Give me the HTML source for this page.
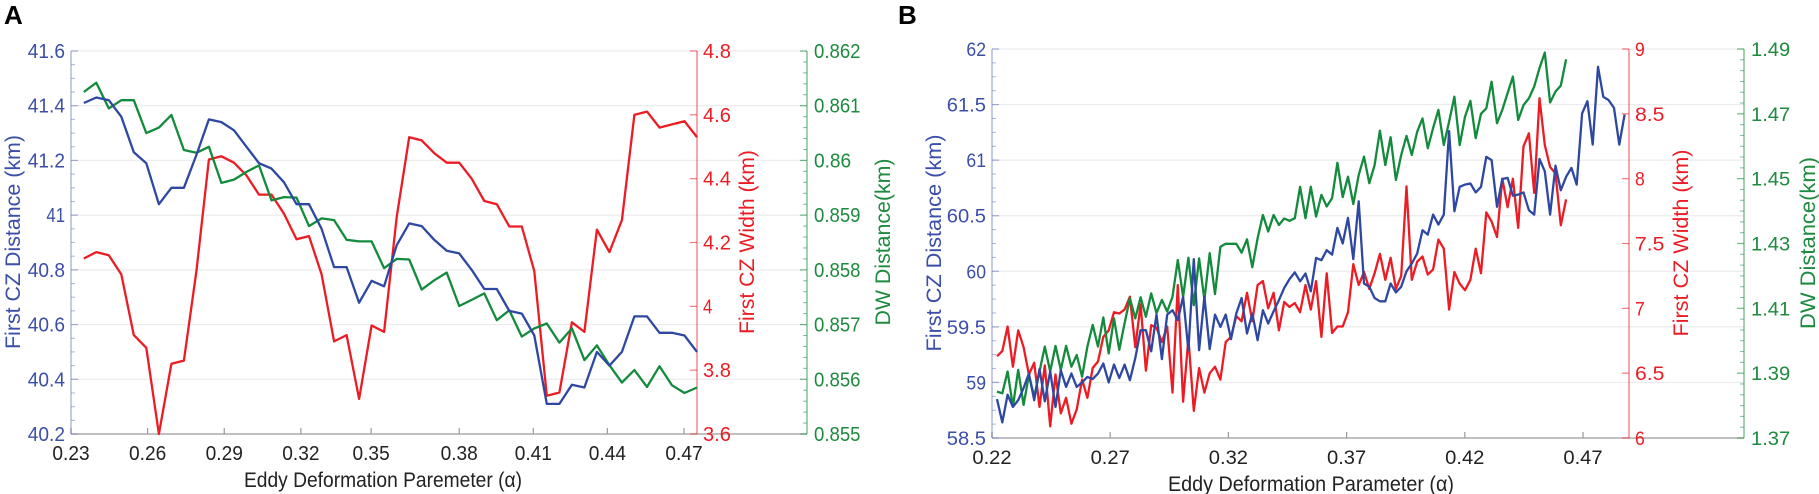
<!DOCTYPE html>
<html><head><meta charset="utf-8">
<style>
html,body{margin:0;padding:0;background:#fff;}
svg{display:block;font-family:"Liberation Sans",sans-serif;}
</style></head>
<body>
<svg id="fig" width="1819" height="494" viewBox="0 0 1819 494" xmlns="http://www.w3.org/2000/svg">
<text x="4" y="24" font-size="26" font-weight="bold" fill="#000">A</text>
<text x="898" y="24" font-size="26" font-weight="bold" fill="#000">B</text>
</svg>
<script>
// ---------- Panel A data ----------
const alphaA=[0.2350,0.2399,0.2448,0.2497,0.2546,0.2595,0.2644,0.2693,0.2742,0.2791,0.2840,0.2889,0.2938,0.2987,0.3036,0.3085,0.3134,0.3183,0.3232,0.3281,0.3330,0.3379,0.3428,0.3477,0.3526,0.3575,0.3624,0.3673,0.3722,0.3771,0.3820,0.3869,0.3918,0.3967,0.4016,0.4065,0.4114,0.4163,0.4212,0.4261,0.4310,0.4359,0.4408,0.4457,0.4506,0.4555,0.4604,0.4653,0.4702,0.4751];
const czDistA=[41.41,41.43,41.42,41.36,41.23,41.19,41.04,41.10,41.10,41.22,41.35,41.34,41.31,41.25,41.19,41.17,41.12,41.04,41.04,40.95,40.81,40.81,40.68,40.76,40.74,40.89,40.97,40.96,40.91,40.87,40.86,40.80,40.73,40.73,40.65,40.64,40.56,40.31,40.31,40.38,40.37,40.50,40.45,40.50,40.63,40.63,40.57,40.57,40.56,40.50];
const czWidthA=[4.15,4.17,4.16,4.10,3.91,3.87,3.60,3.82,3.83,4.11,4.46,4.47,4.45,4.41,4.35,4.35,4.29,4.21,4.22,4.10,3.89,3.91,3.71,3.94,3.92,4.28,4.53,4.52,4.48,4.45,4.45,4.40,4.33,4.32,4.25,4.25,4.11,3.72,3.73,3.95,3.92,4.24,4.17,4.27,4.60,4.61,4.56,4.57,4.58,4.53];
const dwDistA=[0.86125,0.86142,0.86095,0.8611,0.8611,0.8605,0.8606,0.86083,0.86019,0.86014,0.86025,0.85959,0.85965,0.85979,0.85991,0.85927,0.85933,0.85932,0.8588,0.85894,0.85891,0.85855,0.85852,0.85852,0.85803,0.8582,0.85819,0.85764,0.85781,0.85795,0.85734,0.85745,0.85757,0.85708,0.85726,0.85678,0.85693,0.85702,0.85667,0.85693,0.85635,0.85662,0.85626,0.85594,0.85617,0.85586,0.85624,0.85589,0.85575,0.85585];
const xTickValsA=[0.23,0.26,0.29,0.32,0.3475,0.382,0.411,0.44,0.47];
const xTickLabelsA=["0.23","0.26","0.29","0.32","0.35","0.38","0.41","0.44","0.47"];
const blueTicksA=[40.2,40.4,40.6,40.8,41,41.2,41.4,41.6];
const blueTickLabelsA=["40.2","40.4","40.6","40.8","41","41.2","41.4","41.6"];
const redTicksA=[3.6,3.8,4,4.2,4.4,4.6,4.8];
const redTickLabelsA=["3.6","3.8","4","4.2","4.4","4.6","4.8"];
const greenTicksA=[0.855,0.856,0.857,0.858,0.859,0.860,0.861,0.862];
const greenTickLabelsA=["0.855","0.856","0.857","0.858","0.859","0.86","0.861","0.862"];

// ---------- Panel B data ----------
const alphaB=[0.2221,0.22435,0.2266,0.22885,0.2311,0.23335,0.2356,0.23785,0.2401,0.24235,0.2446,0.24685,0.2491,0.25135,0.2536,0.25585,0.2581,0.26035,0.2626,0.26485,0.2671,0.26935,0.2716,0.27385,0.2761,0.27835,0.2806,0.28285,0.2851,0.28735,0.2896,0.29185,0.2941,0.29635,0.2986,0.30085,0.3031,0.30535,0.3076,0.30985,0.3121,0.31435,0.3166,0.31885,0.3211,0.32335,0.3256,0.32785,0.3301,0.33235,0.3346,0.33685,0.3391,0.34135,0.3436,0.34585,0.3481,0.35035,0.3526,0.35485,0.3571,0.35935,0.3616,0.36385,0.3661,0.36835,0.3706,0.37285,0.3751,0.37735,0.3796,0.38185,0.3841,0.38635,0.3886,0.39085,0.3931,0.39535,0.3976,0.39985,0.4021,0.40435,0.4066,0.40885,0.4111,0.41335,0.4156,0.41785,0.4201,0.42235,0.4246,0.42685,0.4291,0.43135,0.4336,0.43585,0.4381,0.44035,0.4426,0.44485,0.4471,0.44935,0.4516,0.45385,0.4561,0.45835,0.4606,0.46285,0.4651,0.46735,0.4696,0.47185,0.4741,0.47635,0.4786,0.48085,0.4831,0.48535,0.4876];
const czDistB=[58.85,58.64,58.89,58.78,58.84,58.95,59.08,58.84,59.12,58.83,59.10,58.78,59.11,58.96,59.08,58.96,59.00,59.05,59.03,59.08,59.17,59.00,59.16,59.04,59.16,59.02,59.22,59.47,59.47,59.28,59.61,59.21,59.61,59.65,59.56,59.77,59.29,60.11,59.29,59.77,59.30,59.61,59.50,59.61,59.39,59.62,59.76,59.44,59.62,59.38,59.65,59.53,59.64,59.74,59.85,59.93,59.99,59.91,59.98,59.82,60.12,60.10,60.19,60.15,60.39,60.25,60.48,60.11,60.63,59.89,59.86,59.76,59.73,59.73,59.89,59.81,59.86,60.00,60.07,60.16,60.37,60.33,60.51,60.42,60.51,61.26,60.54,60.76,60.78,60.79,60.71,60.76,61.03,61.00,60.58,60.83,60.84,60.68,60.69,60.71,60.55,60.51,61.01,60.90,60.51,60.95,60.73,60.85,60.93,60.78,61.42,61.53,61.14,61.84,61.57,61.54,61.47,61.14,61.41];
const czWidthB=[6.63,6.67,6.86,6.55,6.83,6.70,6.49,6.58,6.24,6.56,6.09,6.49,6.19,6.31,6.11,6.22,6.45,6.31,6.54,6.59,6.78,6.83,6.97,6.96,6.99,7.09,6.70,7.03,6.52,6.87,6.85,6.74,6.86,6.35,7.18,6.28,6.77,6.21,6.54,6.35,6.50,6.55,6.45,6.74,6.78,6.94,6.90,7.12,6.90,7.18,7.21,7.00,7.12,6.83,7.05,7.01,7.04,6.97,7.18,6.99,7.21,6.78,7.27,6.81,6.86,6.86,6.97,7.34,7.18,7.28,7.15,7.27,7.42,7.22,7.39,7.15,7.25,7.94,7.22,7.36,7.40,7.26,7.30,7.53,7.46,6.99,7.28,7.19,7.14,7.22,7.46,7.27,7.74,7.67,7.55,8.00,7.78,8.00,7.62,8.25,8.35,7.89,8.62,8.26,8.09,8.04,7.64,7.84];
const dwDistB=[1.3843,1.3838,1.3905,1.3797,1.3910,1.3802,1.3894,1.3827,1.3905,1.3982,1.3905,1.3984,1.3910,1.3984,1.3920,1.3956,1.3889,1.3982,1.4049,1.3982,1.4072,1.3961,1.4069,1.3972,1.4054,1.4131,1.4069,1.4134,1.4074,1.4146,1.4085,1.4126,1.4090,1.4136,1.4249,1.4136,1.4256,1.4110,1.4254,1.4126,1.4270,1.4144,1.4290,1.4299,1.4299,1.4299,1.4272,1.4313,1.4227,1.4316,1.4388,1.4337,1.4388,1.4357,1.4377,1.4370,1.4378,1.4475,1.4378,1.4475,1.4383,1.4450,1.4414,1.4440,1.4549,1.4443,1.4506,1.4422,1.4511,1.4568,1.4486,1.4542,1.4648,1.4542,1.4628,1.4496,1.4573,1.4632,1.4573,1.4645,1.4686,1.4594,1.4656,1.4712,1.4604,1.4676,1.4753,1.4604,1.4691,1.4740,1.4625,1.4700,1.4717,1.4799,1.4671,1.4712,1.4764,1.4815,1.4681,1.4727,1.4748,1.4784,1.4841,1.4889,1.4735,1.4769,1.4787,1.4868];
const xTickValsB=[0.22,0.27,0.32,0.37,0.42,0.47];
const xTickLabelsB=["0.22","0.27","0.32","0.37","0.42","0.47"];
const blueTicksB=[58.5,59,59.5,60,60.5,61,61.5,62];
const blueTickLabelsB=["58.5","59","59.5","60","60.5","61","61.5","62"];
const redTicksB=[6,6.5,7,7.5,8,8.5,9];
const redTickLabelsB=["6","6.5","7","7.5","8","8.5","9"];
const greenTicksB=[1.37,1.39,1.41,1.43,1.45,1.47,1.49];
const greenTickLabelsB=["1.37","1.39","1.41","1.43","1.45","1.47","1.49"];

const NS="http://www.w3.org/2000/svg";
const svg=document.getElementById('fig');
const BLUE="#2e48a2",RED="#ec1c24",GREEN="#138a3c";
const BLUET="#3b4ea8",GREENT="#1d8a3e";
function mk(tag,attrs,parent){const e=document.createElementNS(NS,tag);for(const k in attrs)e.setAttribute(k,attrs[k]);(parent||svg).appendChild(e);return e;}
function lin(d0,d1,r0,r1){return v=>r0+(v-d0)*(r1-r0)/(d1-d0);}

function panel(p){
  const g=mk('g',{});
  
  
  const sx=lin(p.xd[0],p.xd[1],p.xr[0],p.xr[1]);
  const syB=lin(p.bd[0],p.bd[1],p.bottom,p.top);
  const syR=lin(p.rd[0],p.rd[1],p.bottom,p.top);
  const syG=lin(p.gd[0],p.gd[1],p.bottom,p.top);
  // gridlines
  p.bT.forEach((t,i)=>{
    const y=syB(t);
    if(i>0){const l=mk('line',{x1:p.left,x2:p.gx,y1:y,y2:y,stroke:'#ececec','stroke-width':1.2},g);
    
    }
  });
  // bottom axis
  const xa=mk('line',{x1:p.left,x2:p.gx,y1:p.bottom,y2:p.bottom,stroke:'#9a9a9a','stroke-width':1.3},g);
  
  
  p.xT.forEach((t,i)=>{
    const x=sx(t);
    mk('line',{x1:x,x2:x,y1:p.bottom,y2:p.bottom-6,stroke:'#9a9a9a','stroke-width':1.2},g);
    const tx=mk('text',{x:x,y:p.bottom+26,'text-anchor':'middle','font-size':p.fs,fill:'#222',textLength:p.cw*p.xL[i].length,lengthAdjust:'spacingAndGlyphs'},g);
    tx.textContent=p.xL[i];
    
    
  });
  const xt=mk('text',{x:p.xtx,y:p.bottom+53,'text-anchor':'middle','font-size':p.tfs,fill:'#222',textLength:p.xtw,lengthAdjust:'spacingAndGlyphs'},g);
  xt.textContent=p.xTitle;
  
  
  // y axes
  function yaxis(ax,sy,ticks,labels,color,tcol,side,lx,minorN,title,tx,ty,tlen,nm){
    const al=mk('line',{x1:ax,x2:ax,y1:p.top,y2:p.bottom,stroke:color,'stroke-width':1.3,'stroke-opacity':0.6},g);
    
    
    ticks.forEach((t,i)=>{
      const y=sy(t);
      mk('line',{x1:ax,x2:ax+side*7,y1:y,y2:y,stroke:color,'stroke-opacity':0.6,'stroke-width':1.2},g);
      if(i<ticks.length-1){
        for(let m=1;m<minorN;m++){const ym=y+(sy(ticks[i+1])-y)*m/minorN;
          mk('line',{x1:ax,x2:ax+side*4,y1:ym,y2:ym,stroke:color,'stroke-opacity':0.55,'stroke-width':1},g);}
      }
      const lb=mk('text',{x:lx,y:y+7,'text-anchor':side<0?'start':'end','font-size':p.fs,fill:tcol,textLength:p.cw*labels[i].length,lengthAdjust:'spacingAndGlyphs'},g);
      lb.textContent=labels[i];
      
      
    });
    const tt=mk('text',{x:0,y:0,'text-anchor':'middle','font-size':p.tfs,fill:tcol,transform:`translate(${tx},${ty}) rotate(-90)`,textLength:tlen,lengthAdjust:'spacingAndGlyphs'},g);
    tt.textContent=title;
    
    
  }
  yaxis(p.left,syB,p.bT,p.bL,'#6b76c0',BLUET,1,p.left-6,4,'First CZ Distance (km)',p.btx,p.bty,p.btl,'blue-y');
  yaxis(p.rx,syR,p.rT,p.rL,RED,RED,-1,p.rx+6,1,'First CZ Width (km)',p.rtx,p.rty,p.rtl,'red-y');
  yaxis(p.gx,syG,p.gT,p.gL,GREEN,GREENT,-1,p.gx+7,p.gMinor,'DW Distance(km)',p.gtx,p.gty,p.gtl,'green-y');
  // series
  function series(xs,ys,sy,color,nm){
    const d=ys.map((v,i)=>(i?'L':'M')+sx(xs[i]).toFixed(1)+','+sy(v).toFixed(1)).join(' ');
    const pth=mk('path',{d:d,fill:'none',stroke:color,'stroke-width':2.3,'stroke-linejoin':'round'},g);
    
    
  }
  series(p.xs,p.sR,syR,RED,'cz-width-line');
  series(p.xs,p.sG,syG,GREEN,'dw-distance-line');
  series(p.xs,p.sB,syB,BLUE,'cz-distance-line');
}

panel({name:'panel-a',xd:[0.23,0.47],xr:[71,684],left:71,rx:697,gx:807,top:51,bottom:434,
  bd:[40.2,41.6],rd:[3.6,4.8],gd:[0.855,0.862],fs:20,cw:9.3,tfs:21,
  xT:xTickValsA,xL:xTickLabelsA,bT:blueTicksA,bL:blueTickLabelsA,rT:redTicksA,rL:redTickLabelsA,gT:greenTicksA,gL:greenTickLabelsA,gMinor:5,
  xTitle:'Eddy Deformation Paremeter (\u03b1)',xtx:383,xtw:278,
  btx:20,bty:242,btl:214,rtx:754,rty:242,rtl:184,gtx:890,gty:242,gtl:167,
  xs:alphaA,sB:czDistA,sR:czWidthA,sG:dwDistA});
panel({name:'panel-b',xd:[0.22,0.47],xr:[992,1583],left:992,rx:1629,gx:1744,top:49,bottom:438,
  bd:[58.5,62],rd:[6,9],gd:[1.37,1.49],fs:19,cw:9.8,tfs:21,
  xT:xTickValsB,xL:xTickLabelsB,bT:blueTicksB,bL:blueTickLabelsB,rT:redTicksB,rL:redTickLabelsB,gT:greenTicksB,gL:greenTickLabelsB,gMinor:6,
  xTitle:'Eddy Deformation Parameter (\u03b1)',xtx:1311,xtw:286,
  btx:941,bty:243,btl:217,rtx:1688,rty:243,rtl:187,gtx:1815,gty:243,gtl:172,
  xs:alphaB,sB:czDistB,sR:czWidthB,sG:dwDistB});
</script>
</body></html>
